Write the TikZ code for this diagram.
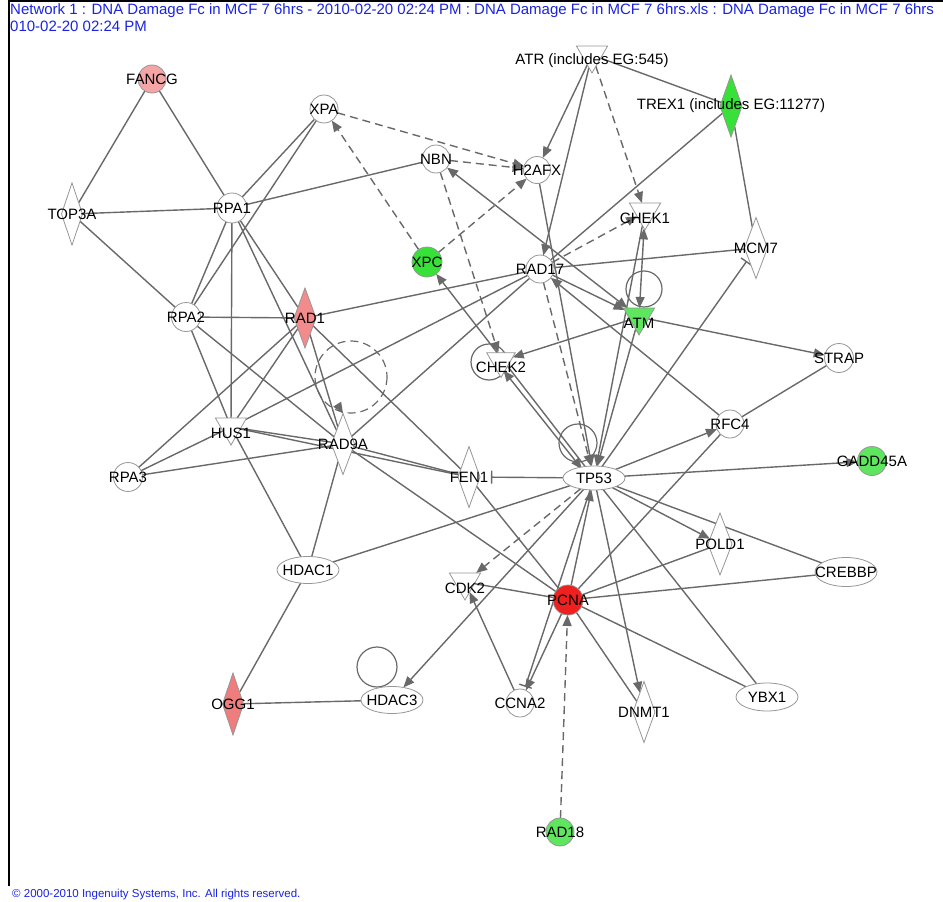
\documentclass[tikz,border=0pt]{standalone}
\usepackage{fontspec}
\setmainfont{Liberation Sans}
\usetikzlibrary{shapes.geometric,arrows.meta,calc}
\pgfdeclarelayer{edges}
\pgfsetlayers{edges,main}

\definecolor{edgegray}{RGB}{105,105,105}
\definecolor{rimgray}{RGB}{150,150,150}
\definecolor{upA}{RGB}{245,165,165}
\definecolor{upB}{RGB}{242,140,140}
\definecolor{upC}{RGB}{240,125,125}
\definecolor{upD}{RGB}{238,32,32}
\definecolor{downA}{RGB}{55,225,55}
\definecolor{downB}{RGB}{95,230,95}
\definecolor{titleblue}{RGB}{25,35,225}

\begin{document}
\begin{tikzpicture}[x=1pt,y=-1pt,
  gene/.style={draw=rimgray, line width=0.8pt, fill=white, inner sep=0pt, outer sep=0pt},
  circ/.style={gene, circle, minimum size=28pt},
  ell/.style={gene, ellipse, minimum width=62pt, minimum height=27pt},
  dia/.style={gene, diamond, minimum width=23pt, minimum height=61pt},
  tri/.style={gene, regular polygon, regular polygon sides=3, shape border rotate=180, minimum size=36pt},
  lbl/.style={font=\fontsize{15}{15}\selectfont, text=black, inner sep=0pt},
  tl/.style={label={[lbl]center:#1}},
  ttl/.style={label={[lbl,yshift=-6pt]center:#1}},
  edge/.style={draw=edgegray, line width=1.4pt},
  arr/.style={edge, -{Triangle[length=11pt,width=9pt]}},
  biarr/.style={edge, {Triangle[length=11pt,width=9pt]}-{Triangle[length=11pt,width=9pt]}},
  dsh/.style={edge, dash pattern=on 8pt off 5pt},
  darr/.style={dsh, -{Triangle[length=11pt,width=9pt]}},
  inh/.style={edge, -{Bar[width=13pt,line width=1.4pt]}},
  loopline/.style={draw=edgegray, line width=1.2pt},
  hdr/.style={font=\fontsize{15}{15}\selectfont, text=titleblue, inner sep=0pt, anchor=base west},
]
\useasboundingbox (0,0) rectangle (943,902);

% frame
\draw[line width=2pt] (943,1) -- (8.5,1) -- (8.5,886);

% header and footer
\node[hdr] (head1) at (10,15) {Network 1 : DNA Damage Fc in MCF 7 6hrs - 2010-02-20 02:24 PM : DNA Damage Fc in MCF 7 6hrs.xls : DNA Damage Fc in MCF 7 6hrs};
\node[hdr] (head2) at (10,31) {010-02-20 02:24 PM};
\node[hdr, font=\fontsize{11.5}{11.5}\selectfont] (foot) at (12,897) {\textcopyright{} 2000-2010 Ingenuity Systems, Inc. All rights reserved.};

% molecules
\node[circ, fill=upA, tl=FANCG] (FANCG) at (152,79) {};
\node[circ, tl=XPA] (XPA) at (324,109) {};
\node[circ, tl=NBN] (NBN) at (436,159) {};
\node[circ, minimum size=27pt, tl=H2AFX] (H2AFX) at (537,170) {};
\node[tri, label={[lbl,yshift=-6pt]center:{ATR (includes EG:545)}}] (ATR) at (592,55) {};
\node[dia, fill=downA, minimum width=22pt, minimum height=62pt, label={[lbl]center:{TREX1 (includes EG:11277)}}] (TREX1) at (731,106) {};
\node[dia, minimum width=21pt, minimum height=62pt, tl=TOP3A] (TOP3A) at (72,214) {};
\node[circ, minimum size=30pt, tl=RPA1] (RPA1) at (232,208) {};
\node[tri, ttl=CHEK1] (CHEK1) at (645,212) {};
\node[circ, fill=downA, minimum size=30pt, tl=XPC] (XPC) at (427,262) {};
\node[circ, tl=RAD17] (RAD17) at (540,269) {};
\node[dia, tl=MCM7] (MCM7) at (756,248) {};
\node[circ, minimum size=29pt, tl=RPA2] (RPA2) at (186,317) {};
\node[dia, fill=upB, minimum width=22pt, minimum height=60pt, tl=RAD1] (RAD1) at (305,318) {};
\node[tri, fill=downB, ttl=ATM] (ATM) at (639,317) {};
\node[tri, minimum size=33pt, ttl=CHEK2] (CHEK2) at (501,361) {};
\node[circ, minimum size=29pt, tl=STRAP] (STRAP) at (839,358) {};
\node[tri, ttl=HUS1] (HUS1) at (231,427) {};
\node[dia, tl=RAD9A] (RAD9A) at (343,444) {};
\node[circ, tl=RFC4] (RFC4) at (730,424) {};
\node[circ, minimum size=29pt, tl=RPA3] (RPA3) at (128,477) {};
\node[dia, minimum width=22pt, tl=FEN1] (FEN1) at (469,477) {};
\node[ell, minimum height=24pt, tl=TP53] (TP53) at (594,478) {};
\node[circ, fill=downB, minimum size=29pt, tl=GADD45A] (GADD45A) at (872,461) {};
\node[dia, minimum width=24pt, minimum height=62pt, tl=POLD1] (POLD1) at (720,544) {};
\node[ell, tl=HDAC1] (HDAC1) at (308,570) {};
\node[ell, minimum height=29pt, tl=CREBBP] (CREBBP) at (846,572) {};
\node[tri, ttl=CDK2] (CDK2) at (465,582) {};
\node[circ, fill=upD, minimum size=30pt, tl=PCNA] (PCNA) at (568,600) {};
\node[dia, fill=upC, minimum width=21pt, minimum height=62pt, tl=OGG1] (OGG1) at (233,704) {};
\node[ell, tl=HDAC3] (HDAC3) at (392,700) {};
\node[circ, tl=CCNA2] (CCNA2) at (520,703) {};
\node[dia, minimum width=22pt, tl=DNMT1] (DNMT1) at (644,712) {};
\node[ell, minimum height=28pt, tl=YBX1] (YBX1) at (767,697) {};
\node[circ, fill=downB, tl=RAD18] (RAD18) at (560,832) {};

\begin{pgfonlayer}{edges}
% plain associations
\foreach \a/\b in {FANCG/TOP3A, FANCG/RPA1, TOP3A/RPA1, TOP3A/RPA2, XPA/RPA1, XPA/RPA2,
  RPA1/NBN, RPA1/RPA2, RPA1/HUS1, RPA1/RAD1, RPA1/RAD9A, RPA2/RAD1, RPA2/HUS1, RPA2/RAD9A,
  RAD1/HUS1, RAD1/RPA3, RAD1/RAD9A, RAD1/RAD17, RAD1/FEN1, HUS1/RPA3, HUS1/RAD9A, HUS1/FEN1,
  HUS1/RAD17, HUS1/HDAC1, RPA3/RAD9A, RAD9A/FEN1, RAD9A/RAD17, RAD9A/HDAC1, RAD9A/PCNA,
  FEN1/PCNA, HDAC1/TP53, HDAC1/OGG1, OGG1/HDAC3, ATR/TREX1, TREX1/RAD17, TREX1/MCM7,
  RAD17/MCM7, RFC4/STRAP, RFC4/PCNA, TP53/YBX1, TP53/CREBBP, PCNA/CDK2, PCNA/DNMT1,
  PCNA/YBX1, PCNA/CREBBP, PCNA/POLD1}
  \draw[edge] (\a) -- (\b);
% activations
\foreach \a/\b in {ATR/H2AFX, ATR/RAD17, H2AFX/TP53, RAD17/ATM, ATM/CHEK2, ATM/STRAP,
  ATM/TP53, CHEK1/TP53, TP53/XPC, TP53/HDAC3, CCNA2/CDK2, PCNA/CCNA2, TP53/DNMT1,
  TP53/POLD1, TP53/GADD45A, TP53/RFC4, PCNA/TP53, RFC4/RAD17}
  \draw[arr] (\a) -- (\b);
\draw[biarr] (NBN) -- (ATM);
\draw[biarr] (ATM) -- (CHEK1);
\draw[biarr, transform canvas={shift={(-3pt,-2.5pt)}}] (CHEK2) -- (TP53);
% dashed activations
\foreach \a/\b in {XPC/XPA, XPC/H2AFX, XPA/H2AFX, NBN/H2AFX, NBN/CHEK2, ATR/CHEK1,
  RAD17/CHEK1, RAD17/TP53, TP53/CDK2, RAD18/PCNA}
  \draw[darr] (\a) -- (\b);
% inhibitions
\draw[inh, shorten >=11pt] (TP53) -- (FEN1);
\draw[inh, shorten >=3pt] (TP53) -- (MCM7);
\draw[inh, shorten >=3pt] (TP53) -- (CCNA2);
% self loops
\draw[loopline] ($(ATM)+(5,-28)$) circle[radius=18];
\draw[loopline] ($(TP53)+(-16,-35)$) circle[radius=19];
\draw[loopline] ($(CHEK2)+(-12,1)$) circle[radius=18];
\draw[loopline] ($(HDAC3)+(-15,-33)$) circle[radius=20];
\draw[loopline, dash pattern=on 8pt off 5pt] ($(RAD9A)+(8,-67)$) circle[radius=36];
\draw[arr] ($(RAD9A.north)+(-5,-8)$) -- (RAD9A.north);
\end{pgfonlayer}
\end{tikzpicture}
\end{document}
